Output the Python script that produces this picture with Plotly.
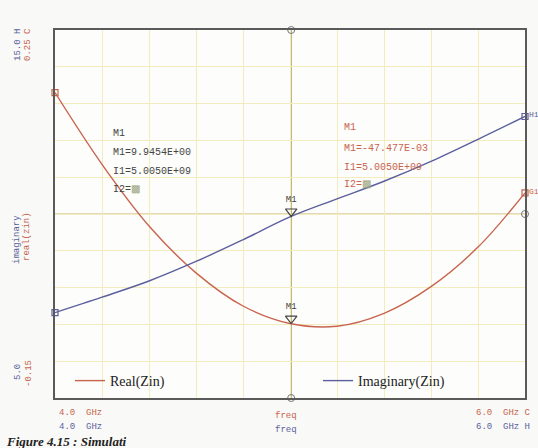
import numpy as np
import plotly.graph_objects as go

# ---------------- data ----------------
freq_ghz = [4.0, 4.2, 4.4, 4.6, 4.8, 5.0, 5.2, 5.4, 5.6, 5.8, 6.0]
real_zin = [0.182, 0.104, 0.037, -0.014, -0.050, -0.069, -0.072, -0.058, -0.029, 0.014, 0.073]
imag_zin = [7.32, 7.74, 8.18, 8.71, 9.30, 9.92, 10.41, 10.89, 11.43, 12.03, 12.65]
marker_freq = 5.005
real_range = [-0.15, 0.25]
imag_range = [5.0, 15.0]
legend_names = ["Real(Zin)", "Imaginary(Zin)"]

RED = "#c8644e"
BLUE = "#5b5f9e"
FRAME = "#5a5a5a"
GRID = "#f2ecbe"
MID = "#c9b47a"
MONO = "Liberation Mono"

W, H = 538, 448
L, R, T, B = 55, 525, 30, 398


def px(x):
    return (x - L) / (R - L)


def py(y):
    return (B - y) / (B - T)


fig = go.Figure()

fig.add_trace(go.Scatter(x=freq_ghz, y=real_zin, mode="lines", name=legend_names[0],
                         line=dict(color=RED, width=1.4, shape="spline"), yaxis="y", legend="legend"))
fig.add_trace(go.Scatter(x=freq_ghz, y=imag_zin, mode="lines", name=legend_names[1],
                         line=dict(color=BLUE, width=1.4, shape="spline"), yaxis="y2", legend="legend2"))

# end markers (small squares)
fig.add_trace(go.Scatter(x=[freq_ghz[0], freq_ghz[-1]], y=[real_zin[0], real_zin[-1]], mode="markers",
                         marker=dict(symbol="square-open", size=6, color=RED, line=dict(width=1.2)),
                         showlegend=False, hoverinfo="skip", yaxis="y", cliponaxis=False))
fig.add_trace(go.Scatter(x=[freq_ghz[0], freq_ghz[-1]], y=[imag_zin[0], imag_zin[-1]], mode="markers",
                         marker=dict(symbol="square-open", size=6, color=BLUE, line=dict(width=1.2)),
                         showlegend=False, hoverinfo="skip", yaxis="y2", cliponaxis=False))

# marker M1 triangles
re_m = float(np.interp(marker_freq, freq_ghz, real_zin))
im_m = float(np.interp(marker_freq, freq_ghz, imag_zin))
re_off = 5 * (real_range[1] - real_range[0]) / (B - T)
im_off = 5 * (imag_range[1] - imag_range[0]) / (B - T)
fig.add_trace(go.Scatter(x=[marker_freq], y=[re_m + re_off], mode="markers+text", text=["M1"],
                         textposition="top center", textfont=dict(family=MONO, size=9, color="#444"),
                         marker=dict(symbol="triangle-down-open", size=10, color="#444", line=dict(width=1.2)),
                         showlegend=False, hoverinfo="skip", yaxis="y"))
fig.add_trace(go.Scatter(x=[marker_freq], y=[im_m + im_off], mode="markers+text", text=["M1"],
                         textposition="top center", textfont=dict(family=MONO, size=9, color="#444"),
                         marker=dict(symbol="triangle-down-open", size=10, color="#444", line=dict(width=1.2)),
                         showlegend=False, hoverinfo="skip", yaxis="y2"))

# marker lines
shapes = [
    dict(type="line", xref="x", yref="paper", x0=marker_freq, x1=marker_freq, y0=0, y1=1,
         line=dict(color="#b0a265", width=1.2), layer="below"),
    dict(type="line", xref="paper", yref="paper", x0=0, x1=1, y0=0.5, y1=0.5,
         line=dict(color=MID, width=1.2), layer="below"),
]
fig.update_layout(shapes=shapes)

# small circles at line ends
fig.add_trace(go.Scatter(x=[marker_freq, marker_freq], y=[real_range[1], real_range[0]], mode="markers",
                         marker=dict(symbol="circle-open", size=7, color="#777", line=dict(width=1)),
                         showlegend=False, hoverinfo="skip", yaxis="y", cliponaxis=False))
fig.add_trace(go.Scatter(x=[freq_ghz[-1]], y=[(real_range[0] + real_range[1]) / 2], mode="markers",
                         marker=dict(symbol="circle-open", size=7, color="#777", line=dict(width=1)),
                         showlegend=False, hoverinfo="skip", yaxis="y", cliponaxis=False))

ann = []


def text(x, y, s, color, size=10, family=MONO, angle=0, xanchor="left", yanchor="middle", **kw):
    ann.append(dict(x=px(x), y=py(y), xref="paper", yref="paper", text=s, showarrow=False,
                    font=dict(family=family, size=size, color=color), textangle=angle,
                    xanchor=xanchor, yanchor=yanchor, **kw))


# marker readout blocks
text(111, 133, "M1", "#444")
text(111, 152, "M1=9.9454E+00", "#444")
text(111, 171, "I1=5.0050E+09", "#444")
text(111, 189, "I2=<span style='color:#9aa47a'>▩</span>", "#444")

text(342, 128, "M1", RED)
text(342, 148, "M1=-47.477E-03", RED)
text(342, 167, "I1=5.0050E+09", RED)
text(342, 184, "I2=<span style='color:#9aa47a'>▩</span>", RED)

# end labels
text(527, 114, "H1", BLUE, size=8)
text(527, 191, "G1", RED, size=8)

# left axis labels (rotated)
text(18, 45, "15.0 H", BLUE, size=9, angle=-90, xanchor="center")
text(28, 45, "0.25 C", RED, size=9, angle=-90, xanchor="center")
text(17, 240, "imaginary", BLUE, size=9, angle=-90, xanchor="center")
text(27, 237, "real(zin)", RED, size=9, angle=-90, xanchor="center")
text(18, 372, "5.0", BLUE, size=9, angle=-90, xanchor="center")
text(29, 374, "-0.15", RED, size=9, angle=-90, xanchor="center")

# bottom labels
text(57, 413, "4.0  GHz", RED, size=9)
text(57, 427, "4.0  GHz", BLUE, size=9)
text(273, 416, "freq", RED, size=9)
text(273, 430, "freq", BLUE, size=9)
text(474, 413, "6.0  GHz C", RED, size=9)
text(474, 427, "6.0  GHz H", BLUE, size=9)

# caption (partially visible)
text(4, 441, "<b><i>Figure 4.15 : Simulati</i></b>", "#222", size=13, family="Liberation Serif")

legfont = dict(family="Liberation Serif", size=14, color="#222")
fig.update_layout(
    annotations=ann,
    width=W, height=H,
    margin=dict(l=L, r=W - R, t=T, b=H - B, pad=0),
    paper_bgcolor="#f9f9f7",
    plot_bgcolor="#fdfdfb",
    showlegend=True,
    legend=dict(x=px(70), y=py(381), xanchor="left", yanchor="middle",
                bgcolor="rgba(0,0,0,0)", font=legfont, itemwidth=30),
    legend2=dict(x=px(318), y=py(381), xanchor="left", yanchor="middle",
                 bgcolor="rgba(0,0,0,0)", font=legfont, itemwidth=30),
    xaxis=dict(range=[freq_ghz[0], freq_ghz[-1]], dtick=0.2, showticklabels=False, ticks="",
               showgrid=True, gridcolor=GRID, gridwidth=1, zeroline=False,
               showline=True, mirror=True, linecolor=FRAME, linewidth=1.5),
    yaxis=dict(range=real_range, dtick=0.04, tick0=-0.15, showticklabels=False, ticks="",
               showgrid=True, gridcolor=GRID, gridwidth=1, zeroline=False,
               showline=True, mirror=True, linecolor=FRAME, linewidth=1.5),
    yaxis2=dict(range=imag_range, overlaying="y", side="right", showticklabels=False, ticks="",
                showgrid=False, zeroline=False, showline=False),
)

fig.write_html("out.html", config={"displayModeBar": False},
               post_script="document.body.style.margin='0';document.body.style.overflow='hidden';")
